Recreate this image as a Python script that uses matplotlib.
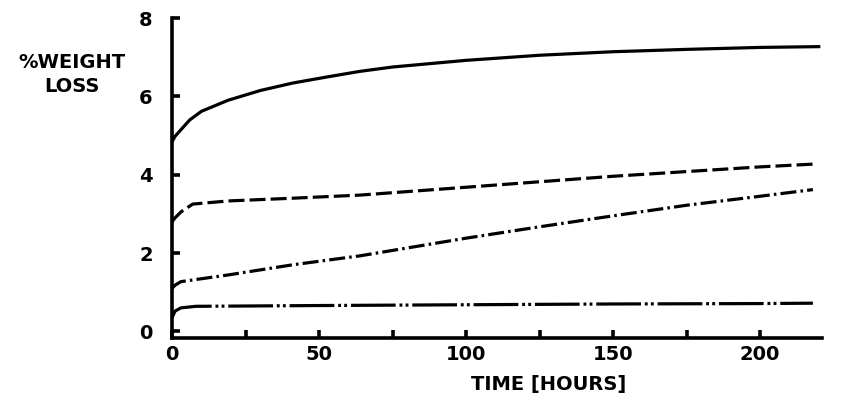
import matplotlib
matplotlib.use("Agg")
import matplotlib.pyplot as plt

plt.rcParams['font.family'] = ['DejaVu Sans']
plt.rcParams['font.weight'] = 'bold'

# curve data (time in hours, % weight loss)
t_solid = [0, 1, 3, 6, 10, 19, 30, 41, 53, 64, 75, 100, 125, 150, 175, 200, 220]
w_solid = [4.85, 4.98, 5.15, 5.4, 5.62, 5.9, 6.15, 6.34, 6.5, 6.64, 6.75, 6.92, 7.05, 7.14, 7.2, 7.25, 7.27]

t_dash = [0, 1, 3, 7, 19, 41, 64, 100, 125, 150, 175, 200, 218]
w_dash = [2.8, 2.9, 3.05, 3.25, 3.33, 3.4, 3.48, 3.68, 3.82, 3.96, 4.08, 4.2, 4.27]

t_dashdot = [0, 1, 3, 19, 41, 64, 100, 125, 150, 175, 200, 218]
w_dashdot = [1.1, 1.18, 1.27, 1.44, 1.7, 1.93, 2.38, 2.67, 2.95, 3.22, 3.45, 3.62]

t_dashdotdot = [0, 1, 3, 8, 50, 100, 150, 200, 218]
w_dashdotdot = [0.35, 0.52, 0.6, 0.64, 0.66, 0.68, 0.7, 0.71, 0.72]

x_ticks = [0, 25, 50, 75, 100, 125, 150, 175, 200]
x_labels = ['0', '', '50', '', '100', '', '150', '', '200']
y_ticks = [0, 2, 4, 6, 8]

fig = plt.figure(figsize=(8.48, 4.01), dpi=100)
ax = fig.add_axes([0.203, 0.157, 0.766, 0.798])

lw = 2.3
ax.plot(t_solid, w_solid, color='black', lw=lw)
ax.plot(t_dash, w_dash, color='black', lw=lw, dashes=(5, 1.6))
ax.plot(t_dashdot, w_dashdot, color='black', lw=lw, dashes=(5, 1.3, 0.8, 1.3))
ax.plot(t_dashdotdot, w_dashdotdot, color='black', lw=lw, dashes=(14, 1.2, 0.9, 1.0, 0.9, 1.2))

ax.set_xlim(0, 221)
ax.set_ylim(-0.17, 8.0)
ax.set_xticks(x_ticks)
ax.set_xticklabels(x_labels)
ax.set_yticks(y_ticks)

for side in ['top', 'right']:
    ax.spines[side].set_visible(False)
for side in ['left', 'bottom']:
    ax.spines[side].set_linewidth(2.6)

ax.tick_params(axis='both', direction='in', length=6, width=2.6, labelsize=14)
ax.tick_params(axis='y', pad=14)
ax.tick_params(axis='x', pad=5)

ax.set_xlabel('TIME [HOURS]', fontsize=14, fontweight='bold')
ax.xaxis.set_label_coords(0.58, -0.115)
fig.text(0.085, 0.815, '%WEIGHT\nLOSS', fontsize=14, fontweight='bold',
         ha='center', va='center', linespacing=1.35)

plt.savefig('out.png', dpi=100)
